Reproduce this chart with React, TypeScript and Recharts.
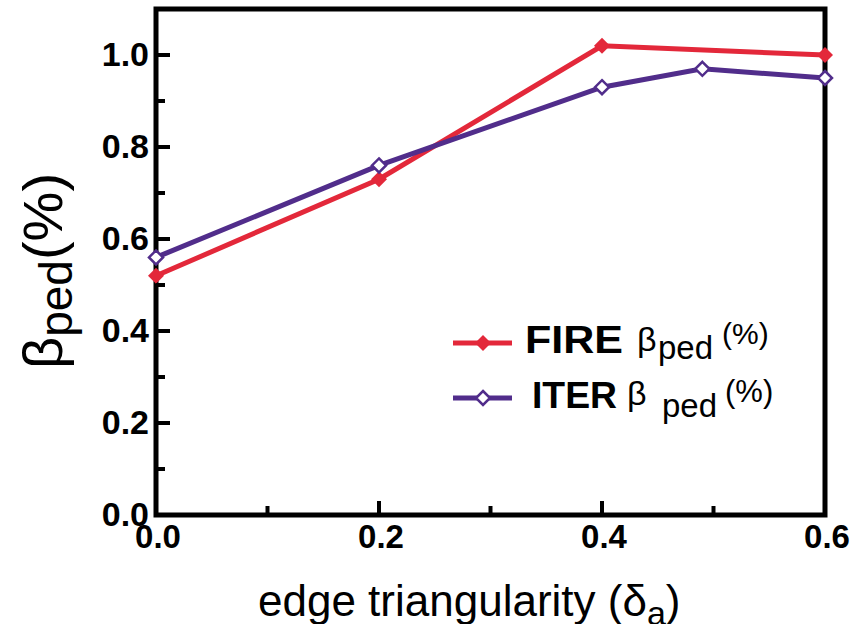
import { LineChart, Line, XAxis, YAxis, ReferenceArea, Legend } from "recharts";

const fireDelta = [0, 0.2, 0.4, 0.6];
const fireBeta = [0.52, 0.73, 1.02, 1.0];
const iterDelta = [0, 0.2, 0.4, 0.49, 0.6];
const iterBeta = [0.56, 0.76, 0.93, 0.97, 0.95];

const seriesNames = ["FIRE", "ITER"];

const xTicks = [0, 0.1, 0.2, 0.3, 0.4, 0.5, 0.6];
const xMajor = [0, 0.2, 0.4, 0.6];
const yTicks = [0, 0.1, 0.2, 0.3, 0.4, 0.5, 0.6, 0.7, 0.8, 0.9, 1.0];
const yMajor = [0, 0.2, 0.4, 0.6, 0.8, 1.0];

const fireData = fireDelta.map((d, i) => ({ delta: d, beta: fireBeta[i] }));
const iterData = iterDelta.map((d, i) => ({ delta: d, beta: iterBeta[i] }));

const RED = "#E3283A";
const PURPLE = "#512D8B";
const FONT = "'Liberation Sans', Arial, Helvetica, sans-serif";
const MAJOR = 14;
const MINOR = 9;

const diamond = (cx: number, cy: number, r: number) =>
  `M${cx},${cy - r}L${cx + r},${cy}L${cx},${cy + r}L${cx - r},${cy}Z`;

const FilledDot = (props: any) => {
  const { cx, cy, index } = props;
  return <path key={`f${index}`} d={diamond(cx, cy, 8)} fill={RED} stroke="none" />;
};

const HollowDot = (props: any) => {
  const { cx, cy, index } = props;
  return (
    <path key={`h${index}`} d={diamond(cx, cy, 7)} fill="#fff" stroke={PURPLE} strokeWidth={2.5} />
  );
};

const BottomTick = (props: any) => {
  const { x, y, payload } = props;
  const major = xMajor.includes(payload.value);
  return (
    <g>
      <line x1={x} x2={x} y1={y} y2={y - (major ? MAJOR : MINOR)} stroke="#000" strokeWidth={4} />
      {major && (
        <text x={x + 2} y={y + 33} textAnchor="middle" fontFamily={FONT} fontWeight="bold" fontSize={33} fill="#000">
          {payload.value.toFixed(1)}
        </text>
      )}
    </g>
  );
};

const TopTick = (props: any) => {
  const { x, y, payload } = props;
  const major = xMajor.includes(payload.value);
  return <line x1={x} x2={x} y1={y} y2={y + (major ? MAJOR : MINOR)} stroke="#000" strokeWidth={4} />;
};

const LeftTick = (props: any) => {
  const { x, y, payload } = props;
  const major = yMajor.includes(payload.value);
  return (
    <g>
      <line x1={x} x2={x + (major ? MAJOR : MINOR)} y1={y} y2={y} stroke="#000" strokeWidth={4} />
      {major && (
        <text x={x - 7} y={y + 11} textAnchor="end" fontFamily={FONT} fontWeight="bold" fontSize={34} fill="#000">
          {payload.value.toFixed(1)}
        </text>
      )}
    </g>
  );
};

const RightTick = (props: any) => {
  const { x, y, payload } = props;
  const major = yMajor.includes(payload.value);
  return <line x1={x} x2={x - (major ? MAJOR : MINOR)} y1={y} y2={y} stroke="#000" strokeWidth={4} />;
};

const YLabel = (props: any) => {
  const { viewBox } = props;
  const cx = viewBox.x + 62;
  const cy = viewBox.y + viewBox.height / 2 + 9;
  return (
    <text x={cx} y={cy} transform={`rotate(-90, ${cx}, ${cy})`} textAnchor="middle" fontFamily={FONT} fill="#000">
      <tspan fontSize={56}>β</tspan>
      <tspan fontSize={46} dy={10}>ped</tspan>
      <tspan fontSize={56} dy={-10}>(%)</tspan>
    </text>
  );
};

const XLabel = (props: any) => {
  const { viewBox } = props;
  const x0 = viewBox.x + 102;
  const cy = viewBox.y + 101;
  return (
    <text x={x0} y={cy} textAnchor="start" fontFamily={FONT} fontSize={44} fill="#000">
      <tspan>edge triangularity (δ</tspan>
      <tspan fontSize={34} dy={9}>a</tspan>
      <tspan dy={-9}>)</tspan>
    </text>
  );
};

const LegendBox = (props: any) => {
  const payload = props.payload || [];
  return (
    <svg width={360} height={115} style={{ display: "block" }}>
      {payload.map((entry: any, i: number) => {
        const y = i === 0 ? 28 : 83;
        const filled = i === 0;
        return (
          <g key={entry.value}>
            <line x1={13} x2={72} y1={y} y2={y} stroke={entry.color} strokeWidth={5} />
            {filled ? (
              <path d={diamond(43, y, 8)} fill={entry.color} />
            ) : (
              <path d={diamond(43, y, 7)} fill="#fff" stroke={entry.color} strokeWidth={2.5} />
            )}
            {i === 0 ? (
              <text fontFamily={FONT} fill="#000">
                <tspan x={85} y={y + 10} fontSize={39} fontWeight="bold" textLength={98} lengthAdjust="spacingAndGlyphs">
                  {entry.value}
                </tspan>
                <tspan x={197} y={y + 8} fontSize={34}>β</tspan>
                <tspan x={218} y={y + 16} fontSize={33}>ped</tspan>
                <tspan x={282} y={y + 1} fontSize={30}>(%)</tspan>
              </text>
            ) : (
              <text fontFamily={FONT} fill="#000">
                <tspan x={92} y={y + 10} fontSize={37} fontWeight="bold" textLength={85} lengthAdjust="spacingAndGlyphs">
                  {entry.value}
                </tspan>
                <tspan x={187} y={y + 7} fontSize={34}>β</tspan>
                <tspan x={222} y={y + 19} fontSize={33}>ped</tspan>
                <tspan x={285} y={y + 4} fontSize={31}>(%)</tspan>
              </text>
            )}
          </g>
        );
      })}
    </svg>
  );
};

export default function App() {
  return (
    <div style={{ position: "absolute", left: 0, top: 0, width: 859, height: 624, background: "#fff" }}>
      <LineChart width={859} height={624} margin={{ top: 9, right: 34, left: 0, bottom: 0 }}>
        <XAxis
          dataKey="delta"
          type="number"
          domain={[0, 0.6]}
          ticks={xTicks}
          interval={0}
          axisLine={false}
          tickLine={false}
          tickSize={0}
          tickMargin={0}
          height={109}
          tick={<BottomTick />}
          label={XLabel}
        />
        <XAxis
          xAxisId="top"
          orientation="top"
          dataKey="delta"
          type="number"
          domain={[0, 0.6]}
          ticks={xTicks}
          interval={0}
          axisLine={false}
          tickLine={false}
          tickSize={0}
          tickMargin={0}
          height={0}
          tick={<TopTick />}
        />
        <YAxis
          type="number"
          domain={[0, 1.1]}
          ticks={yTicks}
          interval={0}
          axisLine={false}
          tickLine={false}
          tickSize={0}
          tickMargin={0}
          width={156}
          tick={<LeftTick />}
          label={YLabel}
        />
        <YAxis
          yAxisId="right"
          orientation="right"
          type="number"
          domain={[0, 1.1]}
          ticks={yTicks}
          interval={0}
          axisLine={false}
          tickLine={false}
          tickSize={0}
          tickMargin={0}
          width={0}
          tick={<RightTick />}
        />
        <ReferenceArea x1={0} x2={0.6} y1={0} y2={1.1} fill="none" fillOpacity={0} stroke="#000" strokeWidth={5} />
        <Line
          data={fireData}
          dataKey="beta"
          name={seriesNames[0]}
          type="linear"
          stroke={RED}
          strokeWidth={5}
          dot={FilledDot}
          activeDot={false}
          isAnimationActive={false}
        />
        <Line
          data={iterData}
          dataKey="beta"
          name={seriesNames[1]}
          type="linear"
          stroke={PURPLE}
          strokeWidth={5}
          dot={HollowDot}
          activeDot={false}
          isAnimationActive={false}
        />
        <Legend
          layout="vertical"
          align="center"
          verticalAlign="middle"
          wrapperStyle={{ left: 440, top: 315, width: 360, height: 115 }}
          content={LegendBox}
        />
      </LineChart>
    </div>
  );
}
